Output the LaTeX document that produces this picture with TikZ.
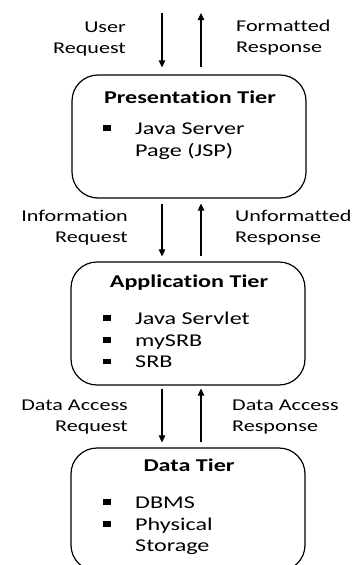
\documentclass[tikz,border=0pt]{standalone}
\usepackage{fontspec}
\setmainfont{Carlito}[FakeStretch=1.34, Ligatures=NoCommon]
\usetikzlibrary{arrows.meta}

\newcommand{\sqbullet}{\rule[3.5pt]{8pt}{5.5pt}}

\begin{document}
\begin{tikzpicture}[x=1pt,y=-1pt,
    tier/.style={draw, line width=1.2pt, rounded corners=26pt, minimum width=234pt, minimum height=123pt},
    title/.style={font=\fontsize{18}{21}\selectfont\bfseries},
    items/.style={font=\fontsize{18}{21.7}\selectfont, anchor=north west, inner sep=0pt},
    lbl/.style={font=\fontsize{16.5}{21}\selectfont, inner sep=0pt},
    flow/.style={-{Triangle[length=7pt,width=6.5pt]}, line width=1.1pt}]
  \useasboundingbox (0,0) rectangle (359,565);
  % tiers
  \node[tier] (pres) at (189,136.5) {};
  \node[tier] (app) at (188,323.5) {};
  \node[tier] (data) at (188,509.5) {};
  \node[title] (prest) at (190,97) {Presentation Tier};
  \node[title] (appt) at (189,283) {Application Tier};
  \node[title] (datat) at (189,465) {Data Tier};
  \node[items] (presl) at (103,119) {\begin{tabular}{@{}p{32pt}@{}l@{}}
    \sqbullet & Java Server\\ & Page (JSP)\end{tabular}};
  \node[items] (appl) at (103,309) {\begin{tabular}{@{}p{32pt}@{}l@{}}
    \sqbullet & Java Servlet\\ \sqbullet & mySRB\\ \sqbullet & SRB\end{tabular}};
  \node[items] (datal) at (103,493) {\begin{tabular}{@{}p{32pt}@{}l@{}}
    \sqbullet & DBMS\\ \sqbullet & Physical\\ & Storage\end{tabular}};
  % client end
  \coordinate (user) at (162,13);
  \coordinate (back) at (201,13);
  \draw[flow] (user) -- ([xshift=-27pt,yshift=7pt]pres.north);
  \draw[flow] ([xshift=12pt,yshift=7pt]pres.north) -- (back);
  \draw[flow] ([xshift=-27pt,yshift=-5pt]pres.south) -- ([xshift=-26pt,yshift=5pt]app.north);
  \draw[flow] ([xshift=13pt,yshift=5pt]app.north) -- ([xshift=12pt,yshift=-5pt]pres.south);
  \draw[flow] ([xshift=-26pt,yshift=-3pt]app.south) -- ([xshift=-26pt,yshift=5pt]data.north);
  \draw[flow] ([xshift=13pt,yshift=5pt]data.north) -- ([xshift=13pt,yshift=-3pt]app.south);
  % labels
  \node[lbl, align=right, anchor=east] (ureq) at (126,39) {User\\Request};
  \node[lbl, align=left, anchor=west] (fres) at (236,38) {Formatted\\Response};
  \node[lbl, align=right, anchor=east] (ireq) at (128,228) {Information\\Request};
  \node[lbl, align=left, anchor=west] (ures) at (235,228) {Unformatted\\Response};
  \node[lbl, align=right, anchor=east] (dreq) at (128,417) {Data Access\\Request};
  \node[lbl, align=left, anchor=west] (dres) at (232,417) {Data Access\\Response};
\end{tikzpicture}
\end{document}
